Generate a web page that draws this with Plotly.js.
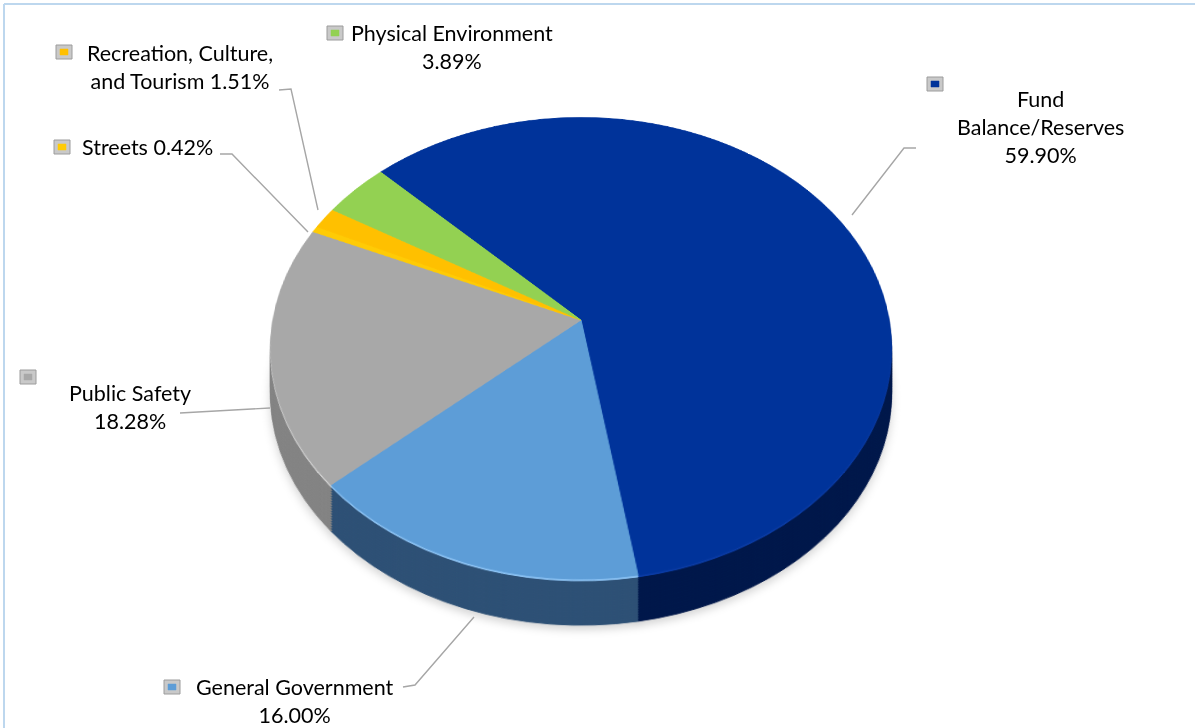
<!DOCTYPE html>
<html>
<head>
<meta charset="utf-8">
<script src="https://cdn.plot.ly/plotly-3.0.1.min.js"></script>
<style>
  html, body { margin: 0; padding: 0; background: #ffffff; overflow: hidden; }
  #wrap { position: relative; width: 1195px; height: 728px; overflow: hidden; background: #ffffff; }
  .layer { position: absolute; left: 0; top: 0; width: 1195px; height: 728px; }
</style>
</head>
<body>
<div id="wrap"></div>
<script>
// ---- data ----
const categories = ['Fund Balance/Reserves', 'General Government', 'Public Safety', 'Streets', 'Recreation, Culture, and Tourism', 'Physical Environment'];
const shares = [59.90, 16.00, 18.28, 0.42, 1.51, 3.89];
const labelLines = ['Fund<br>Balance/Reserves', 'General Government', 'Public Safety', 'Streets', 'Recreation, Culture,<br>and Tourism', 'Physical Environment'];
const valueSep = ['<br>', '<br>', '<br>', ' ', ' ', '<br>'];

// ---- styles ----
const topColors = ['#00339A', '#5D9DD7', '#A8A8A8', '#FFCB05', '#FFC000', '#93D152'];
const sideColors = ['#00174A', '#2D5075', '#838383', '#B38700', '#B38600', '#658F36'];
const edgeColors = ['#0B3CA6', '#8FC6F7', '#DADADA', '#FFE066', '#FFD84D', '#B8E68A'];

const W = 1195, H = 728;
const CX = 581, CY = 320, R = 308, PERSP = 1696, TILT = 42.4, DEPTH = 46, STEP = 2.5;
const dom = { x: [(CX - R) / W, (CX + R) / W], y: [1 - (CY + R) / H, 1 - (CY - R) / H] };

function pieTrace(colors) {
  return {
    type: 'pie', values: shares, labels: categories, sort: false,
    direction: 'clockwise', rotation: 315, textinfo: 'none', hoverinfo: 'none',
    showlegend: false, domain: dom,
    marker: { colors: colors, line: { color: colors, width: 1 } }
  };
}
const pieLayout = { width: W, height: H, margin: { l: 0, r: 0, t: 0, b: 0 },
  paper_bgcolor: 'rgba(0,0,0,0)', plot_bgcolor: 'rgba(0,0,0,0)', showlegend: false };
const cfg = { staticPlot: true, displayModeBar: false };

const wrapDiv = document.getElementById('wrap');
function addPieLayer(colors, off, filter) {
  const d = document.createElement('div');
  d.className = 'layer';
  d.style.transformOrigin = CX + 'px ' + CY + 'px';
  d.style.transform = 'translateY(' + off + 'px) perspective(' + PERSP + 'px) rotateX(' + TILT + 'deg)';
  if (filter) d.style.filter = filter;
  wrapDiv.appendChild(d);
  Plotly.newPlot(d, [pieTrace(colors)], pieLayout, cfg);
}

addPieLayer(shares.map(() => 'rgba(0,0,0,0.16)'), DEPTH + 4, 'blur(4px)');
for (let k = DEPTH; k >= STEP; k -= STEP) addPieLayer(sideColors, k);
addPieLayer(edgeColors, 1.6);
addPieLayer(topColors, 0);

// ---- labels (pixel positions) ----
const px = (x) => x / W, py = (y) => 1 - y / H;
const labelPos = [[1040, 127], [295, 701], [130, 407], [147, 147], [180, 67], [452, 47]];
const iconPos = [[935, 84], [172, 687], [28, 377], [62, 147], [64, 52], [335, 33]];
const leaders = [
  [[916, 148], [904, 148], [852, 215]],
  [[403, 687], [415, 685], [474, 617]],
  [[180, 413], [270, 408]],
  [[220, 154], [232, 154], [308, 232]],
  [[279, 90], [291, 89], [318, 210]],
  null
];

const labelFont = { family: 'Lato, "Open Sans", sans-serif', size: 21.5, color: '#000000' };
const annotations = categories.map((c, i) => ({
  xref: 'paper', yref: 'paper', x: px(labelPos[i][0]), y: py(labelPos[i][1]),
  xanchor: 'center', yanchor: 'middle', showarrow: false, align: 'center',
  text: labelLines[i] + valueSep[i] + shares[i].toFixed(2) + '%', font: labelFont
}));

const shapes = [];
shapes.push({ type: 'line', xref: 'paper', yref: 'paper', x0: px(4), x1: 1, y0: py(4), y1: py(4), line: { color: '#BDD7EE', width: 2 } });
shapes.push({ type: 'line', xref: 'paper', yref: 'paper', x0: px(4), x1: px(4), y0: py(4), y1: 0, line: { color: '#BDD7EE', width: 2 } });
leaders.forEach((pts) => {
  if (!pts) return;
  const d = pts.map((p, j) => (j ? 'L' : 'M') + px(p[0]) + ',' + py(p[1])).join(' ');
  shapes.push({ type: 'path', xref: 'paper', yref: 'paper', path: d, line: { color: '#A6A6A6', width: 1.4 } });
});
iconPos.forEach((p, i) => {
  const o = 8, n = 4;
  shapes.push({ type: 'rect', xref: 'paper', yref: 'paper', x0: px(p[0] - o), x1: px(p[0] + o), y0: py(p[1] - o + 1), y1: py(p[1] + o - 1),
    fillcolor: '#C9C9C9', line: { color: '#9C9C9C', width: 1 } });
  shapes.push({ type: 'rect', xref: 'paper', yref: 'paper', x0: px(p[0] - n), x1: px(p[0] + n), y0: py(p[1] - n + 1), y1: py(p[1] + n - 1),
    fillcolor: topColors[i], line: { color: topColors[i], width: 0.5 } });
});

const labelDiv = document.createElement('div');
labelDiv.className = 'layer';
wrapDiv.appendChild(labelDiv);
Plotly.newPlot(labelDiv, [], {
  width: W, height: H, margin: { l: 0, r: 0, t: 0, b: 0 },
  paper_bgcolor: 'rgba(0,0,0,0)', plot_bgcolor: 'rgba(0,0,0,0)',
  xaxis: { visible: false }, yaxis: { visible: false },
  annotations: annotations, shapes: shapes, showlegend: false
}, cfg);
</script>
</body>
</html>
